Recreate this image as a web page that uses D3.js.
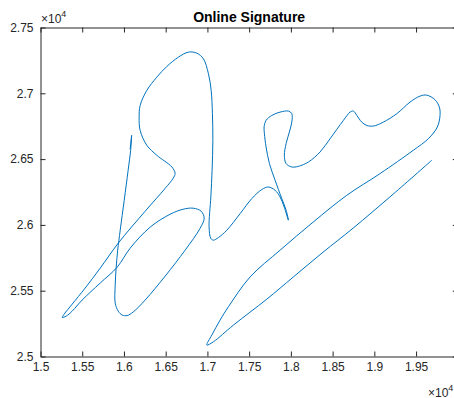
<!DOCTYPE html>
<html>
<head>
<meta charset="utf-8">
<script src="https://cdn.jsdelivr.net/npm/d3@7"></script>
<style>
  html, body { margin: 0; padding: 0; background: #fff; overflow: hidden; }
  svg { display: block; font-family: "Liberation Sans", Arial, Helvetica, sans-serif; }
  .axis path, .axis line { stroke: #262626; }
  .axis text { fill: #262626; font-size: 12px; }
</style>
</head>
<body>
<figure id="signature" style="margin:0"></figure>
<script>
// pen trace (x, y)
const sigX = [16074, 16092, 16080, 16050, 16003, 15955, 15925, 15907, 15895, 15895,
  15931, 15979, 16038, 16110, 16254, 16494, 16733, 16913, 16961, 16925,
  16829, 16709, 16553, 16314, 16074, 15919, 15715, 15499, 15380, 15308,
  15260, 15284, 15380, 15535, 15715, 15931, 16254, 16494, 16589, 16613, 16574,
  16394, 16274, 16194, 16182, 16194, 16274, 16394, 16514, 16653, 16773,
  16873, 16952, 17012, 17045, 17060, 17065, 17056, 17041, 17020, 17041,
  17072, 17132, 17233, 17392, 17532, 17652, 17731, 17811, 17871, 17919,
  17970, 17943, 17891, 17811, 17743, 17703, 17683, 17679, 17703, 17772,
  17871, 17970, 18011, 18011, 17982, 17943, 17922, 17943, 18011, 18090,
  18210, 18350, 18470, 18629, 18709, 18749, 18790, 18849, 18909, 18988,
  19108, 19269, 19428, 19548, 19628, 19727, 19779, 19787, 19755, 19647,
  19467, 19069, 18670, 18270, 17871, 17512, 17252, 17152, 17053, 16993,
  17072, 17312, 17712, 18027, 18386, 18745, 19224, 19688];
const sigY = [26574, 26681, 26567, 26415, 26187, 25960, 25808, 25679, 25542, 25406,
  25345, 25315, 25311, 25338, 25429, 25611, 25808, 25975, 26051, 26104,
  26127, 26119, 26081, 25983, 25823, 25679, 25558, 25429, 25345, 25307,
  25296, 25322, 25398, 25520, 25671, 25861, 26104, 26278, 26354, 26392, 26440,
  26529, 26605, 26718, 26819, 26908, 27022, 27123, 27204, 27275, 27313,
  27305, 27262, 27149, 27022, 26845, 26643, 26415, 26212, 25985, 25897,
  25884, 25904, 25960, 26086, 26200, 26269, 26288, 26263, 26212, 26137,
  26036, 26112, 26200, 26339, 26466, 26592, 26693, 26744, 26794, 26832,
  26857, 26865, 26845, 26781, 26706, 26618, 26529, 26466, 26440, 26445,
  26478, 26554, 26655, 26794, 26857, 26865, 26832, 26781, 26756, 26751,
  26781, 26845, 26933, 26979, 26986, 26951, 26895, 26832, 26744, 26655,
  26567, 26390, 26225, 26023, 25808, 25605, 25378, 25277, 25163, 25087,
  25112, 25239, 25436, 25603, 25793, 25975, 26233, 26491];

const xTicks = [15000, 15500, 16000, 16500, 17000, 17500, 18000, 18500, 19000, 19500, 20000];
const yTicks = [25000, 25500, 26000, 26500, 27000, 27500];
const xDomain = [15000, 20000];
const yDomain = [25000, 27500];
const chartTitle = "Online Signature";

const W = 454, H = 398;
const padLeft = 40.5, padTop = 27.5, plotW = 417.3, plotH = 329;

const svg = d3.select("figure#signature")
  .append("svg")
  .attr("width", W)
  .attr("height", H);

const x = d3.scaleLinear().domain(xDomain).range([padLeft, padLeft + plotW]);
const y = d3.scaleLinear().domain(yDomain).range([padTop + plotH, padTop]);

const fmt = d => String(+(d / 1e4).toFixed(2));

// bottom axis with labels
svg.append("g")
  .attr("class", "axis")
  .attr("transform", `translate(0,${padTop + plotH})`)
  .call(d3.axisBottom(x).tickValues(xTicks).tickFormat(fmt).tickSizeInner(-5).tickSizeOuter(0).tickPadding(6));

// left axis with labels
svg.append("g")
  .attr("class", "axis")
  .attr("transform", `translate(${padLeft},0)`)
  .call(d3.axisLeft(y).tickValues(yTicks).tickFormat(fmt).tickSizeInner(-5).tickSizeOuter(0).tickPadding(7));

// top and right box lines, ticks only
svg.append("g")
  .attr("class", "axis")
  .attr("transform", `translate(0,${padTop})`)
  .call(d3.axisTop(x).tickValues(xTicks).tickFormat("").tickSizeInner(-5).tickSizeOuter(0));
svg.append("g")
  .attr("class", "axis")
  .attr("transform", `translate(${padLeft + plotW},0)`)
  .call(d3.axisRight(y).tickValues(yTicks).tickFormat("").tickSizeInner(-5).tickSizeOuter(0));

// the signature line
const line = d3.line()
  .x((d, i) => x(sigX[i]))
  .y((d, i) => y(sigY[i]))
  .curve(d3.curveCatmullRom.alpha(0.5));
svg.append("path")
  .datum(sigX)
  .attr("d", line)
  .style("fill", "none")
  .style("stroke", "#0072bd")
  .style("stroke-width", 1);

// title
svg.append("text")
  .attr("x", padLeft + plotW / 2)
  .attr("y", 21.5)
  .attr("text-anchor", "middle")
  .style("font-size", "14px")
  .style("font-weight", "bold")
  .style("fill", "#000")
  .text(chartTitle);

// exponent labels
function exponent(xp, yp) {
  const t = svg.append("text")
    .attr("x", xp)
    .attr("y", yp)
    .style("font-size", "12px")
    .style("fill", "#262626");
  t.append("tspan").text("\u00d710");
  t.append("tspan").attr("dy", -6).style("font-size", "9px").text("4");
}
exponent(41, 23);
exponent(428, 397);
</script>
</body>
</html>
